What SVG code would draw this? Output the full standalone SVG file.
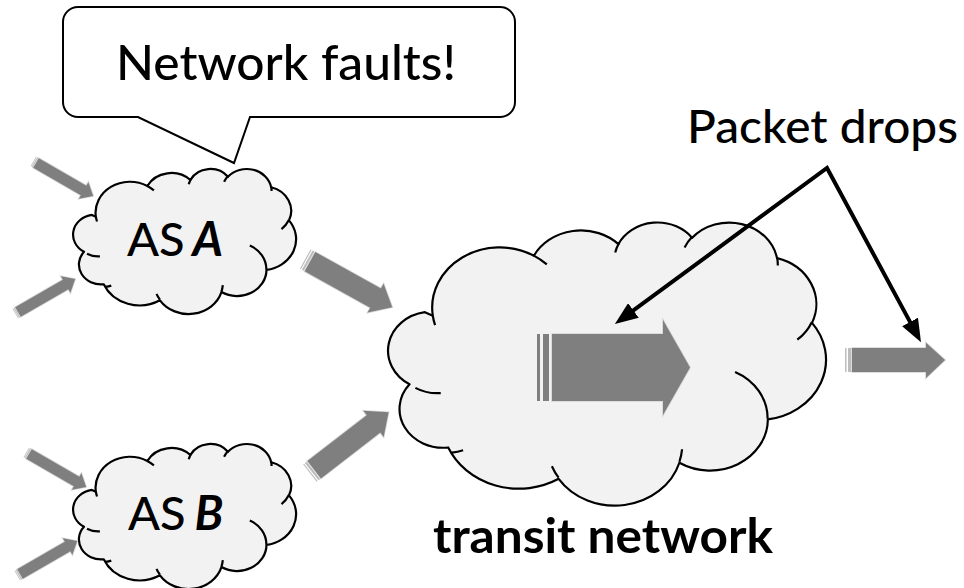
<svg xmlns="http://www.w3.org/2000/svg" xmlns:xlink="http://www.w3.org/1999/xlink" width="964" height="588" viewBox="0 0 964 588">
  <style>
    .txt { font-family: Lato, "Open Sans", "Liberation Sans", sans-serif; font-weight: 500; fill: #000; }
    .txt.bold { font-weight: 700; }
    .txt.bi { font-weight: 700; font-style: italic; }
    .cloud-body { fill: #f2f2f2; stroke: #000; stroke-width: 2.2; vector-effect: non-scaling-stroke; stroke-linejoin: round; }
    .cloud-arcs { fill: none; stroke: #000; stroke-width: 2.2; vector-effect: non-scaling-stroke; }
    .flow { fill: #7f7f7f; stroke: #d4d4d4; stroke-width: 1.6; paint-order: stroke; stroke-linejoin: miter; }
    .stripe { fill: #bdbdbd; }
    .stripe-dark { fill: #7f7f7f; }
    .pointer { fill: none; stroke: #000; stroke-width: 4; stroke-linejoin: miter; }
  </style>
  <defs>
    <!-- cloud outline in a 43200 x 43200 unit box -->
    <path id="cloudBody" class="cloud-body" d="M3900,14370 A6753,9190 0 0 1 14007,5204 A5333,7267 0 0 1 22458,3435 A4365,5945 0 0 1 29836,2483 A4857,6595 0 0 1 38321,5577 A5333,7273 0 0 1 41822,15461 A6775,9220 0 0 1 37406,30202 A5785,7867 0 0 1 28559,36813 A6752,9215 0 0 1 16484,39265 A7720,10543 0 0 1 5441,34480 A4360,5918 0 0 1 1572,24831 A4345,5945 0 0 1 3110,13825 Z"/>
    <path id="cloudArcs" class="cloud-arcs" d="M4693,26177 A4345,5945 0 0 1 2159,25380 M6928,34899 A4360,5918 0 0 1 5820,35280 M16478,39090 A6752,9215 0 0 1 15810,37349 M28827,34751 A6752,9215 0 0 1 28561,36660 M34129,22954 A5785,7867 0 0 1 37380,30090 M41798,15354 A5333,7273 0 0 1 40350,18031 M38324,5426 A4857,6595 0 0 1 38400,6690 M29078,3952 A4857,6595 0 0 1 29819,2341 M22141,4720 A4365,5945 0 0 1 22500,3331 M14000,5192 A6753,9190 0 0 1 15299,6539 M4127,15789 A6753,9190 0 0 1 3900,14371"/>
    <!-- small striped arrow, pointing +x -->
    <g id="smallArrow">
      <rect class="stripe" x="-3.2" y="-5.5" width="0.9" height="11"/>
      <rect class="stripe" x="-1.8" y="-5.5" width="1.3" height="11"/>
      <path class="flow" d="M0,-5.5 H55 V-9.5 L66,0 L55,9.5 V5.5 H0 Z"/>
    </g>
    <!-- medium striped arrow, pointing +x -->
    <g id="midArrow">
      <rect class="stripe" x="-5.5" y="-11" width="1.2" height="22"/>
      <rect class="stripe" x="-3.2" y="-11" width="2.2" height="22"/>
      <path class="flow" d="M0,-11 H75 V-16.5 L94,0 L75,16.5 V11 H0 Z"/>
    </g>
    <marker id="head" markerUnits="userSpaceOnUse" markerWidth="24" markerHeight="18" viewBox="0 0 24 18" refX="3" refY="9" orient="auto-start-reverse">
      <path d="M0,0 L23,9 L0,18 Z" fill="#000"/>
    </marker>
  </defs>

  <rect width="964" height="588" fill="#fff"/>

  <!-- AS A -->
  <g id="as-a">
    <g transform="translate(76,168.5) scale(0.0050926,0.0033565)">
      <use xlink:href="#cloudBody"/>
      <use xlink:href="#cloudArcs"/>
    </g>
    <text class="txt" x="127" y="256" font-size="47">AS</text>
    <text class="txt bi" x="192.5" y="256" font-size="47">A</text>
  </g>

  <!-- AS B -->
  <g id="as-b">
    <g transform="translate(76,443.5) scale(0.0050926,0.0033565)">
      <use xlink:href="#cloudBody"/>
      <use xlink:href="#cloudArcs"/>
    </g>
    <text class="txt" x="128" y="530" font-size="47">AS</text>
    <text class="txt bi" x="194.5" y="530" font-size="47">B</text>
  </g>

  <!-- transit network -->
  <g id="transit">
    <g transform="translate(393.8,221.6) scale(0.01,0.0065509)">
      <use xlink:href="#cloudBody"/>
      <use xlink:href="#cloudArcs"/>
    </g>
    <g id="transit-flow">
      <rect class="stripe-dark" x="537" y="334" width="3" height="67"/>
      <rect class="stripe-dark" x="543" y="334" width="6" height="67"/>
      <path class="flow" d="M552,334 H663 V320 L690,367.5 L663,415 V401 H552 Z"/>
    </g>
    <text class="txt bold" x="433" y="553" font-size="47" textLength="340" lengthAdjust="spacingAndGlyphs">transit network</text>
  </g>

  <!-- speech bubble -->
  <g id="callout">
    <path d="M78,7 H500 A15,15 0 0 1 515,22 V102 A15,15 0 0 1 500,117 H250 L234,163 L138,117 H78 A15,15 0 0 1 63,102 V22 A15,15 0 0 1 78,7 Z" fill="#fff" stroke="#000" stroke-width="2" stroke-linejoin="miter"/>
    <text class="txt" x="116" y="80" font-size="48" textLength="340" lengthAdjust="spacingAndGlyphs">Network faults!</text>
  </g>

  <!-- label -->
  <g id="packet-drops">
    <text class="txt" x="687" y="143" font-size="47" textLength="271" lengthAdjust="spacingAndGlyphs">Packet drops</text>
  </g>

  <!-- traffic flows and pointers -->
  <g id="connectors">
    <use xlink:href="#smallArrow" transform="translate(36,163) rotate(30)"/>
    <use xlink:href="#smallArrow" transform="translate(18,312) rotate(-30)"/>
    <use xlink:href="#smallArrow" transform="translate(29,454) rotate(30)"/>
    <use xlink:href="#smallArrow" transform="translate(20,574) rotate(-30)"/>
    <use xlink:href="#midArrow" transform="translate(310,261.7) rotate(29)"/>
    <use xlink:href="#midArrow" transform="translate(314.2,469.7) rotate(-37.7)"/>
    <g id="exit-flow">
      <rect class="stripe" x="845" y="348" width="1.5" height="24"/>
      <rect class="stripe" x="848" y="348" width="3" height="24"/>
      <path class="flow" d="M852,348 H926 V342.7 L945,360 L926,378 V372 H852 Z"/>
    </g>
    <path class="pointer" d="M631,312.2 L827,168 L911.5,324.6" marker-start="url(#head)" marker-end="url(#head)"/>
  </g>
</svg>
